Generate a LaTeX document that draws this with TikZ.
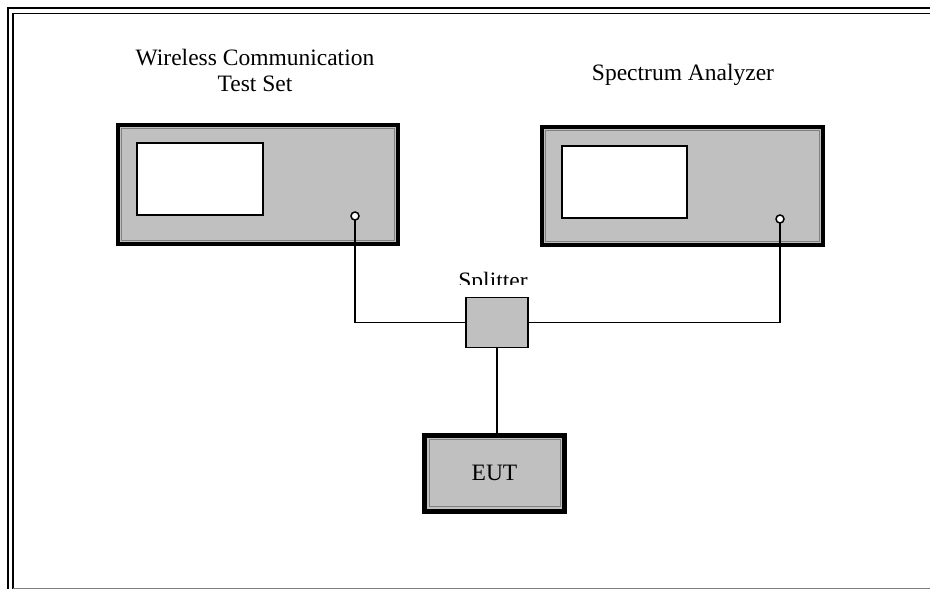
\documentclass[tikz,border=0pt]{standalone}
\usepackage{fontspec}
\setmainfont{Liberation Serif}
\definecolor{boxgray}{HTML}{C0C0C0}
\definecolor{darkgray}{HTML}{808080}
\begin{document}
\begin{tikzpicture}[x=1pt,y=-1pt,
  instr/.style={draw=black,line width=4pt,fill=boxgray,inner sep=0pt,outer sep=0pt,anchor=north west},
  screen/.style={draw=black,line width=2pt,fill=white,inner sep=0pt,outer sep=0pt,anchor=north west},
  port/.style={circle,draw=black,line width=1.5pt,fill=white,minimum size=8pt,inner sep=0pt,outer sep=0pt},
  splbox/.style={draw=black,line width=1.6pt,fill=boxgray,inner sep=0pt,outer sep=0pt,anchor=north west},
  eutbox/.style={draw=black,line width=5pt,fill=boxgray,inner sep=0pt,outer sep=0pt,anchor=north west},
  lbl/.style={font=\fontsize{23.5}{26}\selectfont,align=center,inner sep=0pt},
  wire/.style={draw=black,line width=1.5pt},
  inner/.style={draw=darkgray,line width=1pt}]
\useasboundingbox (0,0) rectangle (930,589);
% outer frame
\draw[line width=2.2pt] (8,589) -- (8,8) -- (930,8);
\draw[line width=1.6pt] (13,589) -- (13,13.5) -- (930,13.5);
\draw[darkgray,line width=1pt] (13,588.3) -- (930,588.3);
% Wireless Communication Test Set
\node[instr,minimum width=280pt,minimum height=119pt] (wcts) at (118,125) {};
\draw[inner] ([shift={(3.5,3.5)}]wcts.north west) rectangle ([shift={(-3.5,-3.5)}]wcts.south east);
\node[screen,minimum width=126pt,minimum height=72pt] (wscr) at (137,143) {};
\node[port] (wport) at (355,216) {};
\node[lbl] (wlbl) at (255,70) {Wireless Communication\\Test Set};
% Spectrum Analyzer
\node[instr,minimum width=281pt,minimum height=118pt] (sa) at (542,127) {};
\draw[inner] ([shift={(3.5,3.5)}]sa.north west) rectangle ([shift={(-3.5,-3.5)}]sa.south east);
\node[screen,minimum width=125pt,minimum height=72pt] (sscr) at (562,146) {};
\node[port] (sport) at (780,219) {};
\node[lbl] (slbl) at (683,75) {Spectrum Analyzer};
% Splitter
\node[splbox,minimum width=62pt,minimum height=50pt] (spl) at (466,297.5) {};
\begin{scope}
\clip (420,250) rectangle (570,284.5);
\node[lbl,anchor=base] (spllbl) at (493,288) {Splitter};
\end{scope}
% EUT
\node[eutbox,minimum width=140pt,minimum height=76pt] (eut) at (424.5,435) {};
\draw[inner] ([shift={(4.5,4.5)}]eut.north west) rectangle ([shift={(-4.5,-4.5)}]eut.south east);
\node[lbl] (eutlbl) at (eut.center) {EUT};
% connectors
\draw[wire] (wport.south) |- (spl.west);
\draw[wire] (sport.south) |- (spl.east);
\draw[wire] (spl.south) -- (spl.south |- eut.north);
\end{tikzpicture}
\end{document}
